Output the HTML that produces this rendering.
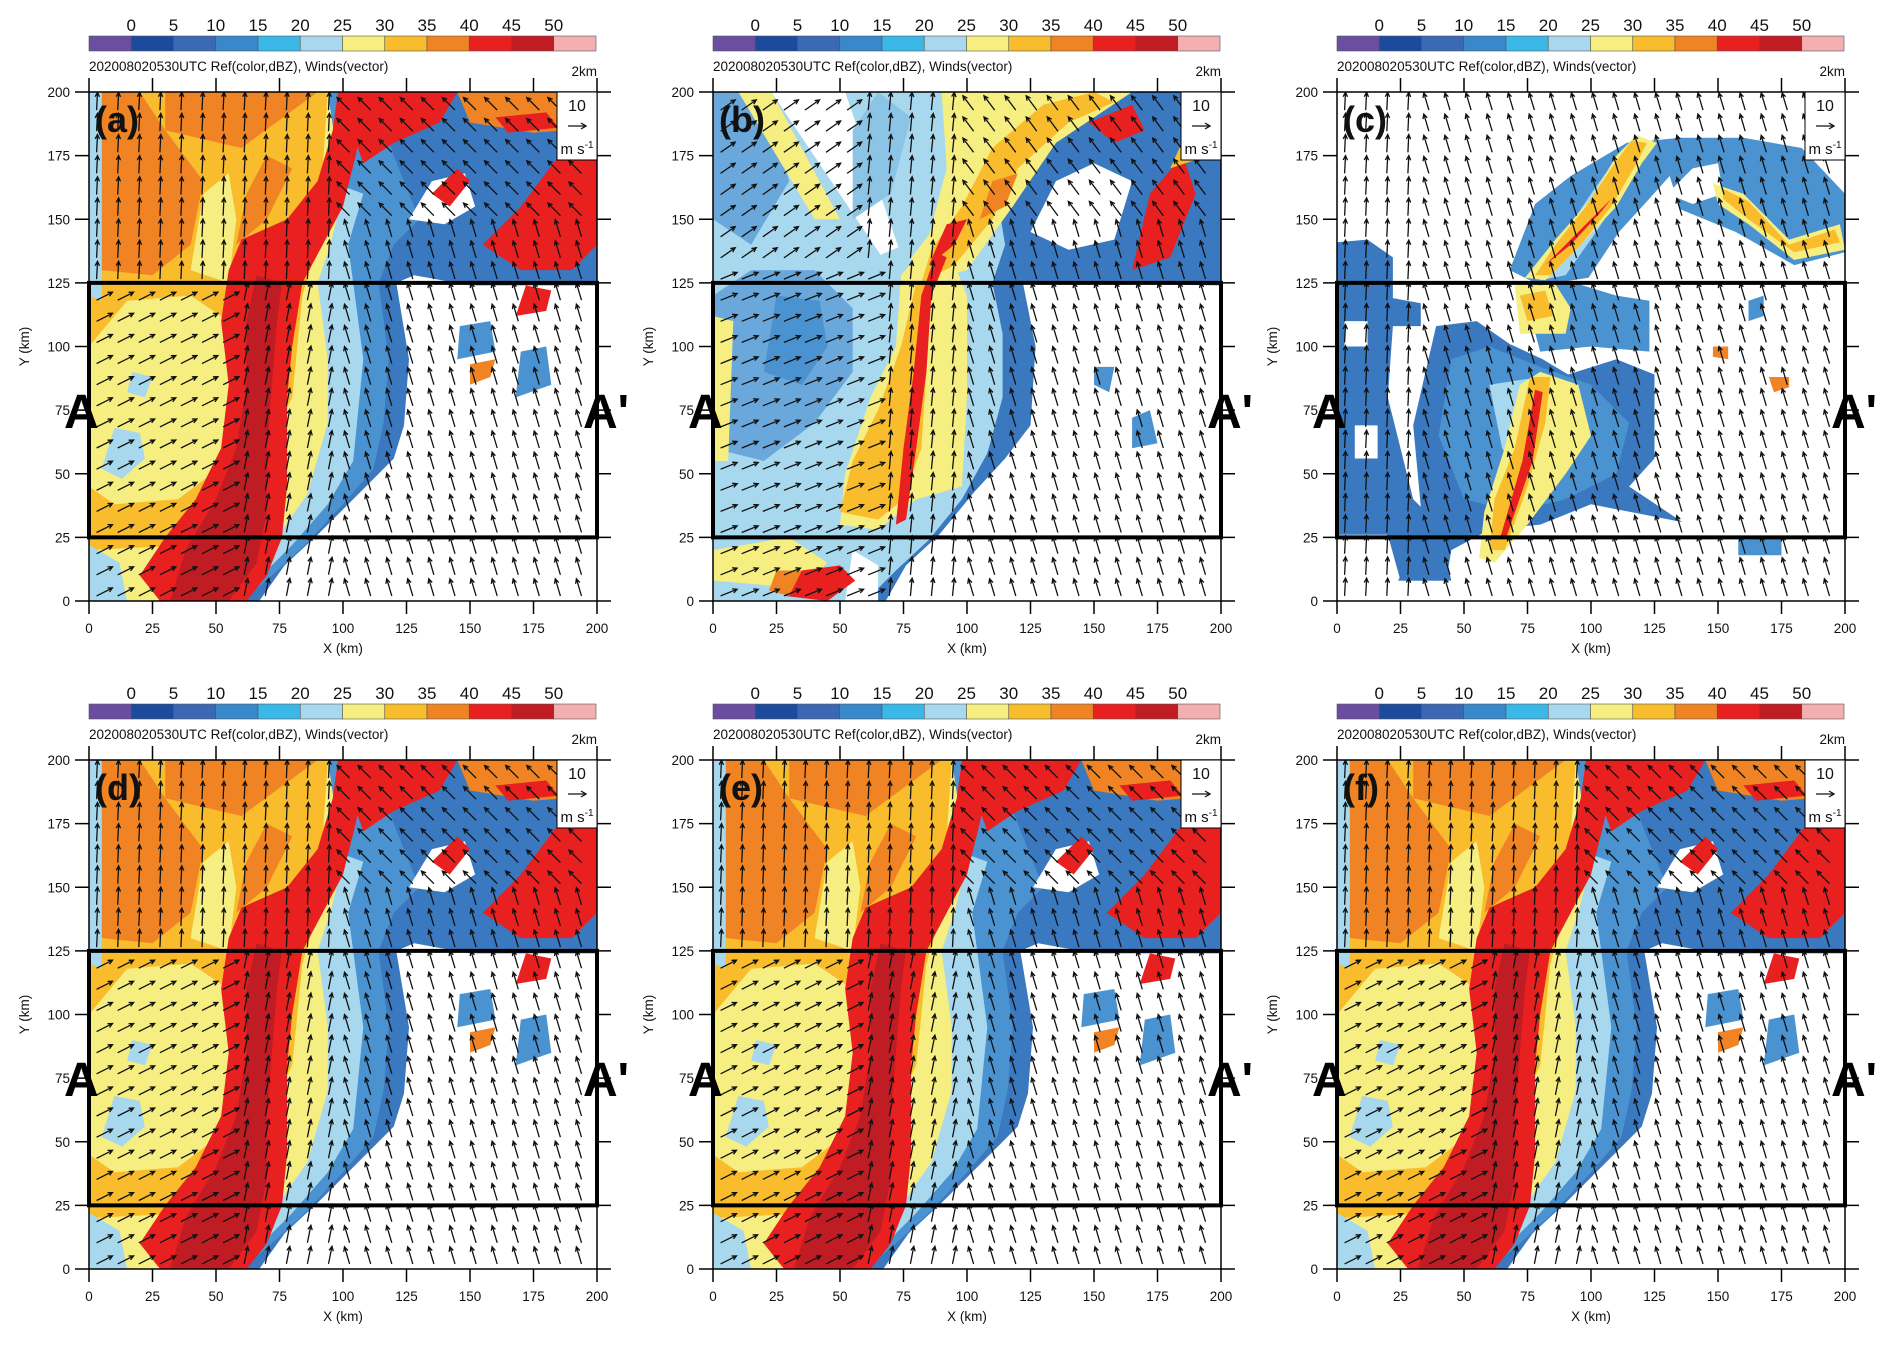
<!DOCTYPE html>
<html><head><meta charset="utf-8"><style>
html,body{margin:0;padding:0;background:#fff}
svg{display:block}
text{font-family:"Liberation Sans",sans-serif}
</style></head><body>
<svg id="fig" xmlns="http://www.w3.org/2000/svg" width="1892" height="1345" viewBox="0 0 1892 1345"></svg>
<script>
// ---- data ----
const levels = [0,5,10,15,20,25,30,35,40,45,50];
const palette = ["#6b4ea0","#1c4a9c","#3a68b4","#3a88cc","#3ab8e8","#a8d8ee","#f6ee80","#f8bc2c","#f08424","#e82020","#c01c24","#f4b0b0"];
const xTicks = [0,25,50,75,100,125,150,175,200];
const yTicks = [0,25,50,75,100,125,150,175,200];
const panelLabels = ["(a)","(b)","(c)","(d)","(e)","(f)"];
const titleText = "202008020530UTC   Ref(color,dBZ), Winds(vector)";
const boxY = [25,125];

const shapesA = [
 ["#3a78c0",[0,0,67,0,77,14,90,26,107,43,120,56,124,69,126,95,121,125,128,128,150,124,200,124,200,200,0,200]],
 ["#4a92d0",[60,0,72,10,85,22,100,38,112,52,116,70,118,95,114,125,120,140,130,150,110,200,0,200,0,0]],
 ["#fff",[126,150,135,165,148,168,152,155,140,148]],
 ["#fff",[170,112,185,118,200,112,200,40,190,60,160,70,140,80,130,100,128,115]],
 ["#a8d8ee",[0,0,58,0,68,10,80,22,94,38,104,55,108,95,104,125,102,140,108,160,0,200]],
 ["#f6ee80",[0,0,52,0,62,10,74,25,86,42,94,70,94,95,90,125,95,140,100,160,94,200,0,200]],
 ["#f8bc2c",[0,20,40,22,60,40,80,80,84,120,90,140,94,200,0,200]],
 ["#f6ee80",[0,45,10,38,35,40,55,55,60,80,55,110,40,120,15,118,0,100]],
 ["#a8d8ee",[5,52,13,48,22,56,20,66,10,68]],
 ["#a8d8ee",[15,82,22,80,25,88,17,90]],
 ["#f6ee80",[40,130,55,125,58,150,55,168,45,160]],
 ["#f08424",[5,130,25,128,40,140,45,165,30,185,20,200,5,200]],
 ["#f08424",[30,185,60,178,90,200,30,200]],
 ["#f08424",[58,140,70,150,80,170,70,175,62,160]],
 ["#a8d8ee",[0,0,15,0,12,15,0,22]],
 ["#a8d8ee",[0,120,5,118,5,200,0,200]],
 ["#e82020",[28,0,62,0,70,10,76,25,78,45,78,60,78,80,80,100,84,125,92,140,100,155,105,175,110,200,98,200,96,185,90,165,78,150,60,142,55,130,52,110,55,85,52,60,42,40,30,25,20,10]],
 ["#c01c24",[32,0,55,0,66,15,70,35,70,60,72,85,74,110,76,125,66,128,62,110,62,85,58,60,50,40,38,20]],
 ["#e82020",[98,200,145,200,138,188,120,180,108,172]],
 ["#f08424",[145,200,200,200,200,186,175,184,150,188]],
 ["#e82020",[160,190,180,192,185,186,165,184]],
 ["#e82020",[155,140,170,155,185,175,200,180,200,140,190,130,170,130]],
 ["#e82020",[168,112,180,114,182,122,172,124]],
 ["#e82020",[135,160,145,170,150,165,142,155]],
 ["#f08424",[150,85,158,88,160,95,150,93]],
 ["#4a92d0",[168,80,182,85,180,100,170,98]],
 ["#4a92d0",[145,95,160,98,158,110,146,108]]
];
const shapesB = [
 ["#3a78c0",[0,0,68,0,76,14,89,26,103,43,115,56,125,69,127,100,122,125,200,124,200,200,0,200]],
 ["#a8d8ee",[0,0,60,0,72,12,85,24,98,40,108,58,114,80,114,105,110,125,115,140,105,200,0,200]],
 ["#fff",[52,0,65,0,65,14,55,20]],
 ["#fff",[23,200,52,200,73,139,66,136]],
 ["#6aa8dc",[0,60,20,55,40,70,55,90,55,115,40,130,15,130,0,120]],
 ["#4a92d0",[20,90,35,85,45,100,42,118,25,120]],
 ["#6aa8dc",[0,150,15,140,30,165,20,200,0,200]],
 ["#8cc4e6",[55,150,70,160,78,190,65,200,55,185]],
 ["#f6ee80",[0,55,6,55,8,110,0,112]],
 ["#f6ee80",[10,200,23,200,50,150,40,150]],
 ["#f6ee80",[50,30,65,28,80,40,98,45,100,80,100,120,92,140,100,160,110,200,90,200,92,170,84,140,74,128,72,100,62,80,52,50]],
 ["#f6ee80",[80,125,100,130,118,155,135,180,165,200,110,200,100,175,90,150,78,135]],
 ["#f8bc2c",[82,125,95,132,110,150,120,170,140,188,158,196,150,200,130,195,110,178,98,155,86,138]],
 ["#f8bc2c",[50,35,65,32,75,40,82,60,84,90,85,125,80,125,74,100,65,75,55,55]],
 ["#e82020",[72,30,76,32,80,60,84,90,86,120,92,135,88,137,82,120,79,90,75,60]],
 ["#e82020",[85,132,95,140,100,150,92,148]],
 ["#e82020",[148,188,165,195,170,185,158,180]],
 ["#f08424",[105,150,115,155,120,168,110,165]],
 ["#fff",[125,145,140,138,158,142,165,165,150,172,135,165]],
 ["#e82020",[165,130,180,135,190,160,185,175,172,160]],
 ["#f8bc2c",[180,170,195,175,200,190,190,192]],
 ["#f6ee80",[0,20,30,25,45,15,35,5,0,8]],
 ["#e82020",[28,2,45,0,56,8,50,14,35,12]],
 ["#f08424",[22,4,30,2,35,12,25,12]],
 ["#4a92d0",[150,85,156,82,158,92,150,92]],
 ["#4a92d0",[165,60,175,62,172,75,165,72]]
];
const shapesC = [
 ["#3a78c0",[0,141,12,142,22,135,22,119,33,117,33,108,22,108,20,80,25,60,30,40,40,30,45,8,25,8,20,26,0,26]],
 ["#fff",[3,110,12,110,12,100,3,100]],
 ["#fff",[7,69,16,69,16,56,7,56]],
 ["#3a78c0",[39,108,55,110,68,101,81,95,91,89,110,95,125,89,125,56,115,45,136,31,100,38,80,30,60,28,45,20,43,8,24,8,34,26,30,69]],
 ["#4a92d0",[45,95,60,100,80,92,100,85,115,70,110,50,90,40,70,35,50,40,40,65]],
 ["#a8d8ee",[60,85,80,88,95,80,100,65,90,50,75,45,65,60]],
 ["#4a92d0",[73,124,90,126,110,120,123,118,123,98,100,100,80,98]],
 ["#f6ee80",[70,124,85,126,92,115,90,105,72,105]],
 ["#f8bc2c",[72,120,82,122,85,112,75,110]],
 ["#f6ee80",[56,17,62,15,75,30,90,50,100,65,95,85,80,90,72,85,66,60,58,35]],
 ["#f8bc2c",[60,20,66,20,75,45,82,70,84,88,76,88,70,60,62,40]],
 ["#e82020",[64,24,67,26,77,55,81,82,78,83,73,55]],
 ["#4a92d0",[68,130,78,156,92,167,114,180,135,182,160,182,183,178,200,160,200,137,180,132,157,145,135,154,131,167,122,157,111,145,99,127,80,124]],
 ["#fff",[130,160,140,170,150,172,152,160,140,156]],
 ["#a8d8ee",[80,126,90,128,102,145,112,160,120,172,110,174,100,160,88,142]],
 ["#f6ee80",[74,127,82,126,94,138,110,155,120,172,126,180,118,183,110,175,100,158,86,142]],
 ["#f8bc2c",[78,128,84,128,96,140,108,155,118,172,122,180,116,181,108,170,98,155,86,140]],
 ["#e82020",[82,132,92,140,104,153,108,158,98,148]],
 ["#f6ee80",[148,164,160,160,178,142,198,148,200,138,180,134,162,148,150,156]],
 ["#f8bc2c",[152,162,162,157,178,140,196,146,198,141,180,137,162,150,152,158]],
 ["#f08424",[148,96,154,95,154,100,148,100]],
 ["#f08424",[170,88,178,88,178,84,172,82]],
 ["#4a92d0",[162,110,168,112,168,120,162,118]],
 ["#4a92d0",[158,18,175,18,175,25,158,24]]
];
const panelShapes = [shapesA, shapesB, shapesC, shapesA, shapesA, shapesA];

// ---- layout ----
const NS = "http://www.w3.org/2000/svg";
const svg = document.getElementById("fig");
const panelX = [89,713,1337];
const panelY = [92,760];
const W = 508, H = 509;
function mk(tag, attrs, parent){
  const e = document.createElementNS(NS, tag);
  for (const k in attrs) e.setAttribute(k, attrs[k]);
  (parent||svg).appendChild(e);
  return e;
}
function windDir(p, x, y){
  let dx=-0.3, dy=1;
  if (p===2){ if (x<35) {dx=0.05;dy=1;} }
  else if (p===1){
    if (x<65 && y<130){dx=1;dy=0.4;}
    else if (x<60 && y>=130){dx=1;dy=0.7;}
    else if (x<95){dx=0.1;dy=1;}
    else if (x>100 && y>150){dx=-0.6;dy=0.8;}
  } else {
    if (x<60 && y<125){dx=1;dy=0.5;}
    else if (x<95 && y<125){dx=0.2;dy=1;}
    else if (x<100 && y>=125){dx=0.05;dy=1;}
    else if (x>=100 && y>150){dx=-0.7;dy=0.7;}
  }
  const n=Math.hypot(dx,dy); return [dx/n,dy/n];
}

for (let p=0;p<6;p++){
  const ox = panelX[p%3], oy = panelY[Math.floor(p/3)];
  const sx = v => ox + v*W/200;
  const sy = v => oy + H - v*H/200;
  const g = mk("g",{});
  
  

  const cbw = (W-1)/palette.length;
  const cb = mk("g",{},g);
  
  
  palette.forEach((c,i)=>{
    const r = mk("rect",{x:ox+i*cbw,y:oy-56,width:cbw,height:15,fill:c,stroke:"#555","stroke-width":0.6},cb);
    
    
  });
  levels.forEach((lv,i)=>{
    const t = mk("text",{x:ox+(i+1)*cbw,y:oy-61,"font-size":17,"text-anchor":"middle",fill:"#111"},cb);
    t.textContent = lv;
    
    
  });
  const tt = mk("text",{x:ox,y:oy-21,"font-size":13.5,fill:"#111","xml:space":"preserve"},g);
  tt.textContent = titleText;
  
  
  const lvl = mk("text",{x:ox+W,y:oy-16,"font-size":13.5,"text-anchor":"end",fill:"#111"},g);
  lvl.textContent = "2km";
  
  

  const cid = "clip"+p;
  const cp = mk("clipPath",{id:cid},g);
  mk("rect",{x:ox,y:oy,width:W,height:H},cp);
  const field = mk("g",{"clip-path":"url(#"+cid+")"},g);
  
  
  mk("rect",{x:ox,y:oy,width:W,height:H,fill:"#fff"},field);
  panelShapes[p].forEach(s=>{
    const pts=[]; for(let i=0;i<s[1].length;i+=2) pts.push(sx(s[1][i]).toFixed(1)+","+sy(s[1][i+1]).toFixed(1));
    const pg = mk("polygon",{points:pts.join(" "),fill:s[0],"stroke-linejoin":"round"},field);
    
    
  });
  const vg = mk("g",{stroke:"#111","stroke-width":1.3,fill:"none"},field);
  
  
  let d="";
  for (let gx=3; gx<200; gx+=8.3){
    for (let gy=2; gy<200; gy+=8.3){
      const [ux,uy]=windDir(p,gx,gy);
      const L=7;
      const x0=sx(gx), y0=sy(gy), x1=sx(gx+ux*L), y1=sy(gy+uy*L);
      const ang=Math.atan2(y1-y0,x1-x0);
      const h=5;
      d+=`M${x0.toFixed(1)},${y0.toFixed(1)}L${x1.toFixed(1)},${y1.toFixed(1)}`;
      d+=`M${(x1-h*Math.cos(ang-0.45)).toFixed(1)},${(y1-h*Math.sin(ang-0.45)).toFixed(1)}L${x1.toFixed(1)},${y1.toFixed(1)}L${(x1-h*Math.cos(ang+0.45)).toFixed(1)},${(y1-h*Math.sin(ang+0.45)).toFixed(1)}`;
    }
  }
  mk("path",{d:d},vg);

  const bx = mk("rect",{x:ox,y:sy(boxY[1]),width:W,height:sy(boxY[0])-sy(boxY[1]),fill:"none",stroke:"#000","stroke-width":4},g);
  
  

  mk("rect",{x:ox,y:oy,width:W,height:H,fill:"none",stroke:"#000","stroke-width":1.5},g);
  const ax = mk("g",{stroke:"#000","stroke-width":1.5},g);
  
  
  xTicks.forEach(v=>{
    mk("line",{x1:sx(v),x2:sx(v),y1:oy,y2:oy-14},ax);
    mk("line",{x1:sx(v),x2:sx(v),y1:oy+H,y2:oy+H+13},ax);
    const t = mk("text",{x:sx(v),y:oy+H+32,"font-size":13.5,"text-anchor":"middle",fill:"#111",stroke:"none"},g);
    t.textContent=v;
    
    
  });
  yTicks.forEach(v=>{
    mk("line",{x1:ox-14,x2:ox,y1:sy(v),y2:sy(v)},ax);
    mk("line",{x1:ox+W,x2:ox+W+14,y1:sy(v),y2:sy(v)},ax);
    const t = mk("text",{x:ox-19,y:sy(v)+5,"font-size":13.5,"text-anchor":"end",fill:"#111",stroke:"none"},g);
    t.textContent=v;
    
    
  });
  const xl = mk("text",{x:ox+W/2,y:oy+H+52,"font-size":13.5,"text-anchor":"middle",fill:"#111"},g);
  xl.textContent="X (km)";
  
  
  const yl = mk("text",{x:0,y:0,"font-size":13.5,"text-anchor":"middle",fill:"#111",transform:`translate(${ox-60},${oy+H/2}) rotate(-90)`},g);
  yl.textContent="Y (km)";
  
  

  const pl = mk("text",{x:ox+6,y:oy+40,"font-size":36,"font-weight":"bold",fill:"#111"},g);
  pl.textContent=panelLabels[p];
  
  
  const aL = mk("text",{x:ox-25,y:sy(75)+18,"font-size":48,"font-weight":"bold",fill:"#000"},g);
  aL.textContent="A";
  
  
  const aR = mk("text",{x:ox+W-14,y:sy(75)+18,"font-size":48,"font-weight":"bold",fill:"#000"},g);
  aR.textContent="A'";
  
  

  const lg = mk("g",{},g);
  
  
  mk("rect",{x:ox+W-40,y:oy,width:40,height:68,fill:"#fff",stroke:"#000","stroke-width":1},lg);
  const l1 = mk("text",{x:ox+W-20,y:oy+19,"font-size":16,"text-anchor":"middle",fill:"#111"},lg);
  l1.textContent="10";
  mk("path",{d:`M${ox+W-29},${oy+34}H${ox+W-11}M${ox+W-16},${oy+31}L${ox+W-11},${oy+34}L${ox+W-16},${oy+37}`,stroke:"#111","stroke-width":1.3,fill:"none"},lg);
  const l2 = mk("text",{x:ox+W-20,y:oy+62,"font-size":15,"text-anchor":"middle",fill:"#111"},lg);
  l2.innerHTML='m s<tspan dy="-6" font-size="10">-1</tspan>';
}
</script>
</body></html>
